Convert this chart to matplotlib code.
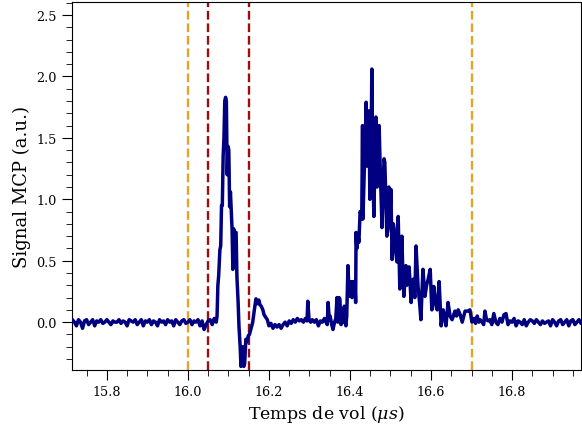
import matplotlib
matplotlib.use('Agg')
import matplotlib.pyplot as plt
from matplotlib.ticker import MultipleLocator
import numpy as np

plt.rcParams['font.family'] = 'DejaVu Serif'
plt.rcParams['mathtext.fontset'] = 'dejavuserif'

# Baseline before the first peak (step 5 ns)
t_left = np.arange(15.715, 16.0701, 0.005)
s_left = [0.02, 0.0, -0.03, 0.02, 0.0, -0.05, 0.01, 0.02, -0.02, 0.0,
          0.02, -0.03, 0.01, 0.0, 0.02, -0.01, 0.0, 0.02, 0.0, -0.02,
          0.01, 0.0, 0.0, 0.02, -0.01, 0.01, 0.0, -0.03, 0.02, 0.01,
          0.0, 0.02, -0.02, 0.0, 0.02, -0.03, 0.01, 0.0, 0.02, -0.02,
          0.01, 0.0, -0.03, 0.02, 0.0, 0.01, -0.02, 0.02, 0.0, 0.01,
          -0.03, 0.02, 0.0, -0.02, 0.01, 0.02, -0.01, 0.0, 0.02, -0.02,
          0.01, 0.0, 0.02, -0.03, 0.01, -0.06, -0.02, 0.01, 0.02, -0.02,
          0.03, 0.0]

# First peak and the region up to the main peak
t_mid = [16.072, 16.074, 16.076, 16.079, 16.081, 16.083, 16.085, 16.087,
         16.089, 16.091, 16.093, 16.095, 16.097, 16.099, 16.101, 16.103,
         16.105, 16.107, 16.109, 16.111, 16.113, 16.115, 16.117, 16.119,
         16.121, 16.124, 16.126, 16.129, 16.131, 16.133, 16.135, 16.138,
         16.140, 16.143, 16.146, 16.149, 16.152, 16.156, 16.160, 16.164,
         16.168, 16.172, 16.175, 16.178, 16.181, 16.185, 16.188, 16.192,
         16.196, 16.200, 16.205, 16.210, 16.215, 16.220, 16.225, 16.230,
         16.235, 16.240, 16.245, 16.250, 16.255, 16.260, 16.265, 16.270,
         16.275, 16.280, 16.285, 16.290, 16.294, 16.296, 16.299, 16.303,
         16.307, 16.312, 16.317, 16.322, 16.327, 16.332, 16.337, 16.341,
         16.344, 16.346, 16.349]
s_mid = [0.05, 0.3, 0.38, 0.59, 0.62, 0.95, 0.95, 1.35,
         1.5, 1.8, 1.83, 1.8, 1.2, 1.43, 1.4, 0.94,
         1.06, 0.9, 0.76, 0.43, 0.76, 0.51, 0.73, 0.73,
         0.37, 0.16, -0.03, -0.2, -0.36, -0.3, -0.2, -0.36,
         -0.34, -0.14, -0.16, -0.11, -0.1, -0.05, 0.0, 0.1,
         0.19, 0.15, 0.18, 0.14, 0.13, 0.1, 0.06, 0.04,
         0.02, -0.03, -0.01, -0.05, -0.02, -0.04, -0.02, -0.05,
         -0.02, 0.0, -0.03, 0.01, -0.01, 0.02, 0.0, 0.03,
         0.01, 0.02, 0.0, 0.03, 0.01, 0.17, 0.02, 0.0,
         0.02, 0.0, 0.02, -0.03, 0.01, 0.0, 0.03, 0.0,
         -0.02, 0.16, 0.02]

# Main peak
t_main = [16.351, 16.355, 16.358, 16.362, 16.365, 16.368, 16.370, 16.373,
          16.375, 16.378, 16.381, 16.383, 16.386, 16.388, 16.390, 16.392,
          16.395, 16.398, 16.400, 16.402, 16.405, 16.407, 16.410, 16.412,
          16.414, 16.415, 16.417, 16.420, 16.422, 16.425, 16.427, 16.429,
          16.431, 16.432, 16.435, 16.438, 16.440, 16.442, 16.445, 16.447,
          16.449, 16.452, 16.454, 16.456, 16.459, 16.462, 16.464, 16.467,
          16.470, 16.472, 16.475, 16.477, 16.479, 16.482, 16.484, 16.486,
          16.489, 16.491, 16.494, 16.496, 16.499, 16.501, 16.504, 16.507,
          16.509, 16.512, 16.516, 16.519, 16.521, 16.523, 16.528, 16.530,
          16.533, 16.538, 16.540, 16.543, 16.546, 16.551, 16.553, 16.556,
          16.560, 16.563, 16.568, 16.572, 16.575, 16.580, 16.585, 16.589,
          16.593, 16.598, 16.602, 16.607, 16.611, 16.615, 16.620, 16.625,
          16.630, 16.633, 16.637, 16.642, 16.647, 16.652, 16.659, 16.663,
          16.667, 16.672, 16.677, 16.684, 16.691, 16.696, 16.701, 16.706,
          16.710, 16.714, 16.718, 16.721, 16.726, 16.730, 16.733, 16.737,
          16.741]
s_main = [0.05, -0.02, -0.06, 0.0, 0.03, 0.2, 0.0, 0.2,
          0.19, -0.02, 0.03, 0.0, 0.13, 0.0, -0.03, 0.05,
          0.46, 0.21, 0.3, 0.33, 0.2, 0.33, 0.28, 0.33,
          0.16, 0.73, 0.6, 0.7, 0.65, 0.9, 0.88, 0.84,
          1.6, 0.84, 1.2, 1.5, 1.79, 1.27, 1.55, 1.72,
          1.0, 1.4, 2.06, 1.3, 0.86, 1.4, 1.67, 1.1,
          1.59, 1.6, 1.2, 1.0, 0.77, 1.1, 1.33, 1.3,
          0.92, 0.7, 0.76, 1.1, 0.9, 1.08, 0.51, 0.8,
          0.76, 0.6, 0.49, 0.86, 0.55, 0.27, 0.7, 0.45,
          0.21, 0.46, 0.3, 0.37, 0.45, 0.16, 0.3, 0.35,
          0.2, 0.62, 0.29, 0.15, 0.02, 0.43, 0.21, 0.3,
          0.35, 0.43, 0.1, 0.29, 0.15, 0.1, 0.33, -0.03,
          0.1, 0.05, -0.03, 0.16, 0.05, 0.02, 0.09, 0.05,
          0.1, 0.06, 0.0, 0.09, 0.09, 0.1, 0.0, 0.03,
          -0.01, 0.05, 0.0, 0.02, 0.0, -0.02, 0.09, 0.02,
          0.01]

# Baseline after the main peak (step 5 ns)
t_right = np.arange(16.745, 16.9751, 0.005)
s_right = [0.02, -0.02, 0.07, 0.0, -0.02, 0.03, 0.0, 0.06, 0.07, -0.02,
           0.01, 0.0, 0.03, -0.03, 0.01, 0.0, -0.02, 0.02, -0.03, 0.0,
           0.02, 0.01, -0.01, 0.02, 0.0, -0.02, 0.01, -0.01, 0.0, 0.01,
           -0.03, 0.02, 0.0, -0.03, 0.01, 0.02, -0.02, 0.0, 0.02, -0.03,
           0.01, 0.02, -0.02, 0.0, 0.02, -0.01, 0.01]

t = np.concatenate([t_left, t_mid, t_main, t_right[:len(s_right)]])
s = np.concatenate([s_left, s_mid, s_main, s_right])

orange_lines = [16.0, 16.7]
red_lines = [16.05, 16.15]

fig = plt.figure(figsize=(5.82, 4.27), dpi=100)
ax = fig.add_axes([0.1237, 0.131, 0.8745, 0.862])

ax.plot(t, s, color='navy', lw=2.5, zorder=3)
for x in orange_lines:
    ax.axvline(x, color='#e3a42a', ls='--', lw=1.7, zorder=2)
for x in red_lines:
    ax.axvline(x, color='#a00d0d', ls='--', lw=1.7, zorder=2)

ax.set_xlim(15.714, 16.97)
ax.set_ylim(-0.39, 2.606)
ax.xaxis.set_major_locator(MultipleLocator(0.2))
ax.xaxis.set_minor_locator(MultipleLocator(0.05))
ax.yaxis.set_major_locator(MultipleLocator(0.5))
ax.yaxis.set_minor_locator(MultipleLocator(0.1))
ax.tick_params(which='major', length=7.5, labelsize=9.2)
ax.tick_params(which='minor', length=4)
ax.set_xlabel(r'Temps de vol ($\mu s$)', fontsize=12.5, labelpad=3)
ax.set_ylabel('Signal MCP (a.u.)', fontsize=13, labelpad=4)

fig.savefig('out.png', dpi=100)
